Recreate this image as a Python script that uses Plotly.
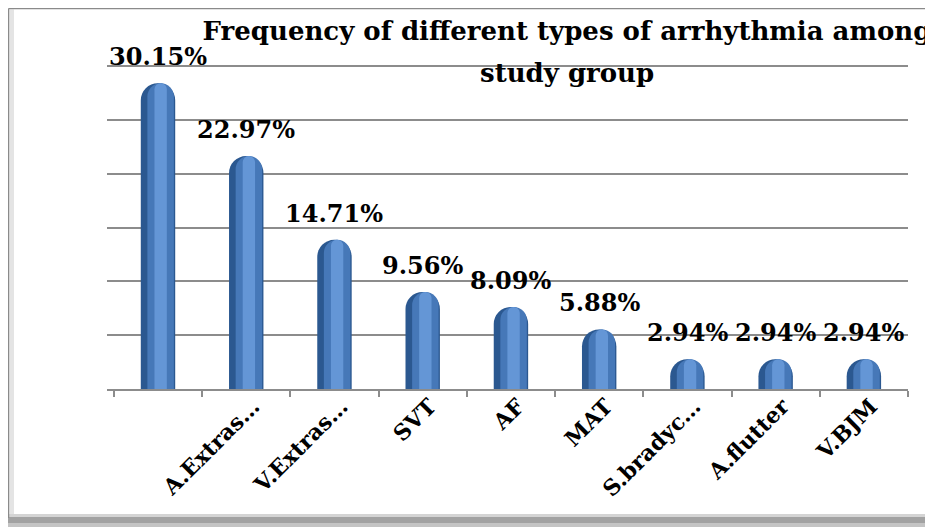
import plotly.graph_objects as go

categories = [" ", "A.Extras…", "V.Extras…", "SVT", "AF", "MAT", "S.bradyc…", "A.flutter", "V.BJM"]
values = [30.15, 22.97, 14.71, 9.56, 8.09, 5.88, 2.94, 2.94, 2.94]
labels = ["30.15%", "22.97%", "14.71%", "9.56%", "8.09%", "5.88%", "2.94%", "2.94%", "2.94%"]
title_line1 = "Frequency of different types of arrhythmia among"
title_line2 = "study group"

FONT = "DejaVu Serif"
ymax = 31.83
grid_vals = [ymax * i / 6 for i in range(1, 7)]

# figure-space plot area (page is offset by 8px body margin)
L, R, T, B = 99, 900, 57, 381
W, H = 933, 527


def px(fx):
    return (fx - L) / (R - L)


def py(fy):
    return (B - fy) / (B - T)


fig = go.Figure()
# cylinder-like shading via layered bars
fig.add_trace(go.Bar(x=categories, y=values, width=0.39, offset=-0.195,
                     marker=dict(color="#2b5890", cornerradius="50%", line=dict(width=0)),
                     hoverinfo="skip"))
fig.add_trace(go.Bar(x=categories, y=values, width=0.30, offset=-0.12,
                     marker=dict(color="#4678b8", cornerradius="50%", line=dict(width=0)),
                     hoverinfo="skip"))
fig.add_trace(go.Bar(x=categories, y=values, width=0.14, offset=-0.04,
                     marker=dict(color="#6496d6", cornerradius="50%", line=dict(width=0)),
                     hoverinfo="skip"))

for c, v, t in zip(categories, values, labels):
    fig.add_annotation(x=c, y=v, text="<b>" + t + "</b>", showarrow=False,
                       yanchor="bottom", yshift=10,
                       font=dict(family=FONT, size=24, color="#000000"))

fig.add_annotation(xref="paper", yref="paper", x=px(559), y=py(65),
                   xanchor="center", yanchor="middle", showarrow=False,
                   text="<b>" + title_line2 + "</b>",
                   font=dict(family=FONT, size=26, color="#000000"))

shapes = [
    # bottom shadow band
    dict(type="rect", xref="paper", yref="paper", x0=px(0), x1=px(925), y0=py(506), y1=py(509),
         fillcolor="#d4d4d4", line=dict(width=0), layer="below"),
    dict(type="rect", xref="paper", yref="paper", x0=px(0), x1=px(925), y0=py(509), y1=py(515),
         fillcolor="#a2a2a2", line=dict(width=0), layer="below"),
    dict(type="rect", xref="paper", yref="paper", x0=px(0), x1=px(925), y0=py(515), y1=py(519),
         fillcolor="#c4c4c4", line=dict(width=0), layer="below"),
    # left inner shadow
    dict(type="rect", xref="paper", yref="paper", x0=px(1.5), x1=px(6), y0=py(506), y1=py(1.5),
         fillcolor="#e4e4e4", line=dict(width=0), layer="below"),
    # border lines
    dict(type="line", xref="paper", yref="paper", x0=px(0.5), x1=px(923), y0=py(0.5), y1=py(0.5),
         line=dict(color="#8a8a8a", width=1.5), layer="below"),
    dict(type="line", xref="paper", yref="paper", x0=px(0.5), x1=px(0.5), y0=py(0.5), y1=py(510),
         line=dict(color="#8a8a8a", width=1.5), layer="below"),
    dict(type="line", xref="paper", yref="paper", x0=px(923), x1=px(923), y0=py(0.5), y1=py(510),
         line=dict(color="#b0b0b0", width=1.5), layer="below"),
]

fig.update_layout(
    width=W, height=H,
    barmode="overlay",
    showlegend=False,
    paper_bgcolor="white", plot_bgcolor="white",
    margin=dict(l=L, r=W - R, t=T, b=H - B, autoexpand=False),
    title=dict(text="<b>" + title_line1 + "</b>",
               x=559 / W, xanchor="center", y=0.973, yanchor="top",
               font=dict(family=FONT, size=26, color="#000000")),
    xaxis=dict(type="category", tickangle=-45, showgrid=False, automargin=False,
               showline=True, linecolor="#8c8c8c", linewidth=1.5,
               ticks="outside", ticklen=6, tickcolor="#8c8c8c", tickwidth=1.5,
               tickson="boundaries", ticklabelstandoff=-6, ticklabelshift=7,
               tickprefix="<b>", ticksuffix="</b>",
               tickfont=dict(family=FONT, size=22, color="#000000")),
    yaxis=dict(range=[0, ymax * 1.004], tickmode="array", tickvals=grid_vals,
               showticklabels=False, automargin=False,
               showgrid=True, gridcolor="#8c8c8c", gridwidth=1.5,
               zeroline=False, showline=False, ticks=""),
    shapes=shapes,
)

fig.write_html("out.html")
